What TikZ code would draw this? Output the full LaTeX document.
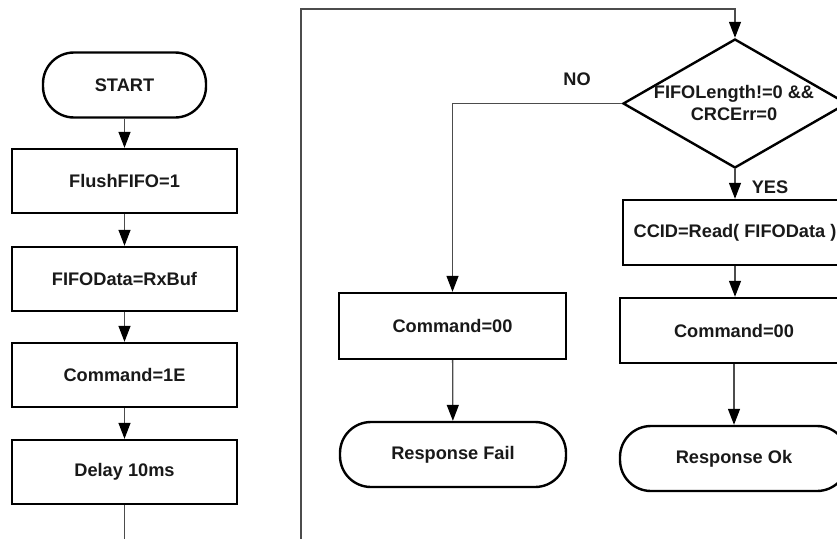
\documentclass[tikz,border=0pt]{standalone}
\usepackage{fontspec}
\setmainfont{Liberation Sans}
\usetikzlibrary{shapes.geometric,arrows.meta}

\begin{document}
\begin{tikzpicture}[x=1pt,y=-1pt,
  font=\fontsize{18.2}{22}\selectfont\bfseries,
  box/.style={draw=black,line width=2.4pt,minimum height=65pt,inner sep=0pt,text=black!90},
  term/.style={box,rounded corners=31pt},
  cond/.style={draw=black,line width=2.4pt,diamond,inner sep=0pt,minimum width=224pt,minimum height=129pt},
  flow/.style={draw=black!70,line width=1.3pt},
  arr/.style={flow,-{Triangle[length=16pt,width=12pt,fill=black,color=black]}},
  lbl/.style={text=black!90}]

\clip (0,0) rectangle (837,538);
\fill[white] (0,0) rectangle (837,538);

% left column: setup sequence
\node[term,minimum width=163pt,minimum height=65pt] (start) at (124.5,85) {START};
\node[box,minimum width=225pt,minimum height=64pt] (flush) at (124.5,181) {FlushFIFO=1};
\node[box,minimum width=225pt,minimum height=64pt] (fifo) at (124.5,279) {FIFOData=RxBuf};
\node[box,minimum width=225pt,minimum height=64pt] (cmd1e) at (124.5,375) {Command=1E};
\node[box,minimum width=225pt,minimum height=64pt] (delay) at (124.5,472) {Delay 10ms};
\coordinate (delayout) at (124.5,540);

\draw[arr] (start) -- (flush);
\draw[arr] (flush) -- (fifo);
\draw[arr] (fifo) -- (cmd1e);
\draw[arr] (cmd1e) -- (delay);
\draw[flow] (delay) -- (delayout);

% decision on received data
\node[cond] (dec) at (735,103.5) {};
\node[lbl,align=center] (dectext) at (734,103) {FIFOLength!=0 \&\&\\CRCErr=0};

% loop back into the decision
\coordinate (loopin) at (301,540);
\coordinate (looptop) at (301,9);
\draw[arr] (loopin) -- (looptop) -| (dec.north);

% NO branch
\node[box,minimum width=227pt,minimum height=66pt] (cmdfail) at (452.5,326) {Command=00};
\node[term,minimum width=226pt,minimum height=65pt] (fail) at (453,454.5) {Response Fail};
\node[lbl] (no) at (577,79.5) {NO};
\draw[arr] (dec.west) -| (cmdfail.north);
\draw[arr] (cmdfail) -- (fail);

% YES branch
\node[box,minimum width=224pt,minimum height=65pt] (ccid) at (735,232.5) {CCID=Read( FIFOData )};
\node[box,minimum width=228pt,minimum height=65pt] (cmdok) at (734,330.5) {Command=00};
\node[term,minimum width=228pt,minimum height=65pt] (ok) at (734,458.5) {Response Ok};
\node[lbl] (yes) at (770,187.5) {YES};
\draw[arr] (dec.south) -- (ccid.north);
\draw[arr] (ccid.south) -- (ccid.south |- cmdok.north);
\draw[arr] (cmdok) -- (ok);

\end{tikzpicture}
\end{document}
